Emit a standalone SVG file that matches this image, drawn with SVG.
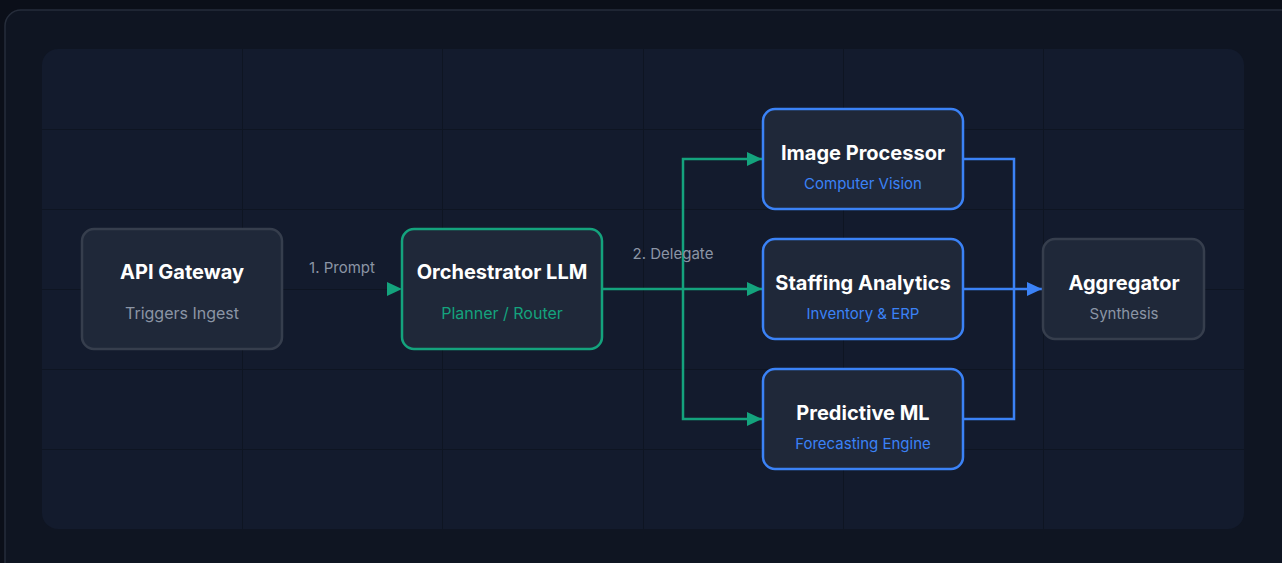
<svg xmlns="http://www.w3.org/2000/svg" width="1282" height="563" viewBox="0 0 1282 563">
  <defs>
    <style>
      .title { font-family: Inter, "Noto Sans", "DejaVu Sans", sans-serif; font-weight: 700; font-size: 20px; fill: #ffffff; text-anchor: middle; }
      .sub { font-family: Inter, "Noto Sans", "DejaVu Sans", sans-serif; font-weight: 400; font-size: 15px; text-anchor: middle; }
      .lbl { font-family: Inter, "Noto Sans", "DejaVu Sans", sans-serif; font-size: 15px; fill: #8b95a5; text-anchor: middle; }
      .node { fill: #1f2839; stroke-width: 2.5; }
      .gray { stroke: #363e4d; }
      .green { stroke: #14a37d; }
      .blue { stroke: #3b82f6; }
      .grid { stroke: #0e1522; stroke-width: 1; }
      .cg { fill: none; stroke: #14a37d; stroke-width: 2.5; }
      .cb { fill: none; stroke: #3b82f6; stroke-width: 2.5; }
    </style>
    <marker id="ag" viewBox="0 0 15 14" refX="15" refY="7" markerWidth="15" markerHeight="14" markerUnits="userSpaceOnUse" orient="auto">
      <path d="M0,0 L15,7 L0,14 Z" fill="#14a37d"/>
    </marker>
    <marker id="ab" viewBox="0 0 15 14" refX="15" refY="7" markerWidth="15" markerHeight="14" markerUnits="userSpaceOnUse" orient="auto">
      <path d="M0,0 L15,7 L0,14 Z" fill="#3b82f6"/>
    </marker>
  </defs>

  <rect x="0" y="0" width="1282" height="563" fill="#0b0f19"/>
  <rect x="5" y="10" width="1300" height="580" rx="16" fill="#0f1522" stroke="#262d3b" stroke-width="1.5"/>
  <rect x="42" y="49" width="1202" height="480" rx="16" fill="#131b2d"/>

  <g id="grid" class="grid">
    <line x1="242.5" y1="49" x2="242.5" y2="529"/>
    <line x1="442.5" y1="49" x2="442.5" y2="529"/>
    <line x1="643.5" y1="49" x2="643.5" y2="529"/>
    <line x1="843.5" y1="49" x2="843.5" y2="529"/>
    <line x1="1043.5" y1="49" x2="1043.5" y2="529"/>
    <line x1="42" y1="129.5" x2="1244" y2="129.5"/>
    <line x1="42" y1="209.5" x2="1244" y2="209.5"/>
    <line x1="42" y1="289.5" x2="1244" y2="289.5"/>
    <line x1="42" y1="369.5" x2="1244" y2="369.5"/>
    <line x1="42" y1="449.5" x2="1244" y2="449.5"/>
  </g>

  <g id="connectors">
    <path d="M387,289 L402,289" stroke="none" fill="none" marker-end="url(#ag)"/>
    <path class="cg" d="M602,289 L762,289" marker-end="url(#ag)"/>
    <path class="cg" d="M683,289 L683,159 L762,159" marker-end="url(#ag)"/>
    <path class="cg" d="M683,289 L683,419 L762,419" marker-end="url(#ag)"/>
    <path class="cb" d="M964,159 L1014,159 L1014,419 L964,419"/>
    <path class="cb" d="M964,289 L1042,289" marker-end="url(#ab)"/>
    <text class="lbl" x="342" y="273">1. Prompt</text>
    <text class="lbl" x="673" y="259">2. Delegate</text>
  </g>

  <g id="api-gateway">
    <rect class="node gray" x="82" y="229" width="200" height="120" rx="12"/>
    <text class="title" x="182" y="279">API Gateway</text>
    <text class="sub" x="182" y="319" fill="#8b95a5" style="font-size:16px">Triggers Ingest</text>
  </g>

  <g id="orchestrator">
    <rect class="node green" x="402" y="229" width="200" height="120" rx="12"/>
    <text class="title" x="502" y="279">Orchestrator LLM</text>
    <text class="sub" x="502" y="319" fill="#14a37d" style="font-size:16px">Planner / Router</text>
  </g>

  <g id="image-processor">
    <rect class="node blue" x="763" y="109" width="200" height="100" rx="12"/>
    <text class="title" x="863" y="160">Image Processor</text>
    <text class="sub" x="863" y="189" fill="#3b82f6">Computer Vision</text>
  </g>

  <g id="staffing-analytics">
    <rect class="node blue" x="763" y="239" width="200" height="100" rx="12"/>
    <text class="title" x="863" y="290">Staffing Analytics</text>
    <text class="sub" x="863" y="319" fill="#3b82f6">Inventory &amp; ERP</text>
  </g>

  <g id="predictive-ml">
    <rect class="node blue" x="763" y="369" width="200" height="100" rx="12"/>
    <text class="title" x="863" y="420">Predictive ML</text>
    <text class="sub" x="863" y="449" fill="#3b82f6">Forecasting Engine</text>
  </g>

  <g id="aggregator">
    <rect class="node gray" x="1043" y="239" width="161" height="100" rx="12"/>
    <text class="title" x="1124" y="290">Aggregator</text>
    <text class="sub" x="1124" y="319" fill="#8b95a5">Synthesis</text>
  </g>
</svg>
